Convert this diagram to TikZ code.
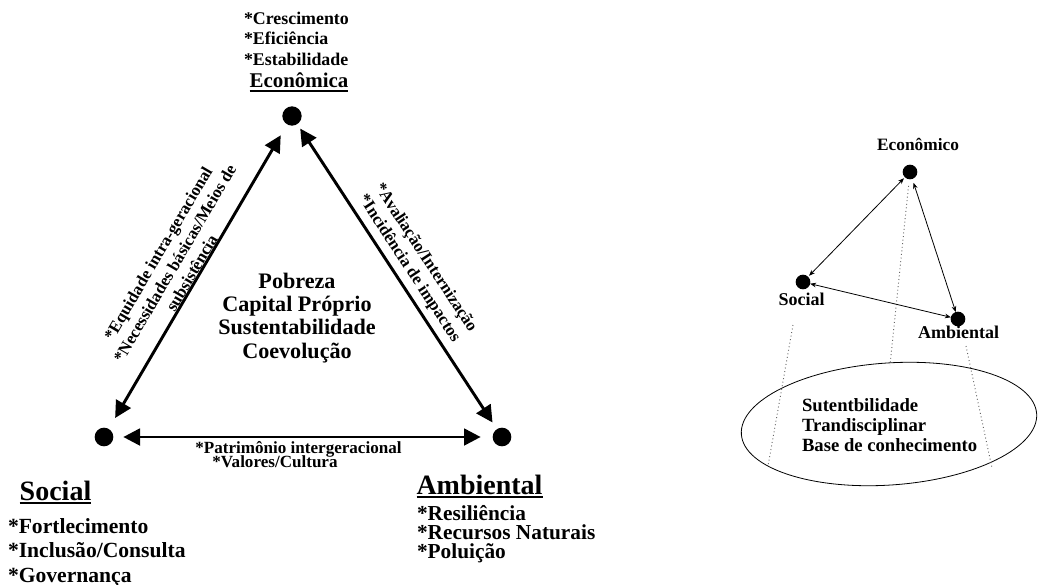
\documentclass[tikz,border=0pt]{standalone}
\usepackage{fontspec}
\setmainfont{Liberation Serif}
\usetikzlibrary{arrows.meta,shapes.geometric}
\begin{document}
\begin{tikzpicture}[x=0.75pt,y=-0.75pt,
  every node/.style={inner sep=0pt, outer sep=0pt},
  fs/.style={font=\bfseries\fontsize{#1}{#1}\selectfont},
  slabel/.style={font=\bfseries\fontsize{12.6pt}{14.6pt}\selectfont, align=center, sloped, midway},
  dot/.style={circle, fill=black, minimum size=#1, inner sep=0pt},
  bigarrow/.style={line width=2.2pt, {Triangle[length=12.5pt,width=12.5pt]}-{Triangle[length=12.5pt,width=12.5pt]}},
  thinarrow/.style={line width=0.6pt, {Stealth[length=4.5pt,width=3.5pt]}-{Stealth[length=4.5pt,width=3.5pt]}},
  dotline/.style={dotted, line width=0.7pt, black!60},
  uline/.style={line width=1.3pt},
]
\fill[white] (0,0) rectangle (1039,585);
\useasboundingbox (0,0) rectangle (1039,585);

% ---------- left triangle ----------
\node[dot=14.5pt] (econ) at (292,116) {};
\node[dot=14pt] (soc) at (104,437) {};
\node[dot=14pt] (amb) at (502,437) {};

\draw[bigarrow, shorten <=9.5pt, shorten >=9.5pt] (soc) -- (econ)
  node[slabel, above=1pt] (lblL)
  {*Equidade intra-geracional\\*Necessidades básicas/Meios de\\subsistência};
\draw[bigarrow, shorten <=4pt, shorten >=6pt] (econ) -- (amb)
  node[slabel, above=5pt] (lblR)
  {*Avaliação/Internização\\*Incidência de impactos};
\draw[bigarrow, shorten <=7.5pt, shorten >=9pt] (soc) -- (amb);

\node[fs=12.8pt, anchor=base] (pat) at (298.5,453) {*Patrimônio intergeracional};
\node[fs=12.8pt, anchor=base] (val) at (275,467) {*Valores/Cultura};

% top labels
\node[fs=13.4pt, anchor=base west] (cre) at (244,25) {*Crescimento};
\node[fs=13.4pt, anchor=base west] (efi) at (244,45) {*Eficiência};
\node[fs=13.4pt, anchor=base west] (est) at (244,65) {*Estabilidade};
\node[fs=15.7pt, anchor=base] (econT) at (299,88) {Econômica};
\draw[uline] ([yshift=-2pt]econT.base west) -- ([yshift=-2pt]econT.base east);

% center
\node[fs=16.6pt, anchor=base] (c1) at (297,288) {Pobreza};
\node[fs=16.6pt, anchor=base] (c2) at (297,311.5) {Capital Próprio};
\node[fs=16.6pt, anchor=base] (c3) at (297,334.5) {Sustentabilidade};
\node[fs=16.6pt, anchor=base] (c4) at (297,358) {Coevolução};

% social
\node[fs=21pt, anchor=base] (socT) at (55.5,500) {Social};
\draw[uline] ([yshift=-2.4pt]socT.base west) -- ([yshift=-2.4pt]socT.base east);
\node[fs=16.2pt, anchor=base west] (s1) at (8,533) {*Fortlecimento};
\node[fs=16.2pt, anchor=base west] (s2) at (8,557) {*Inclusão/Consulta};
\node[fs=16.2pt, anchor=base west] (s3) at (8,582) {*Governança};

% ambiental
\node[fs=21pt, anchor=base] (ambT) at (479.5,494) {Ambiental};
\draw[uline] ([yshift=-2.4pt]ambT.base west) -- ([yshift=-2.4pt]ambT.base east);
\node[fs=16pt, anchor=base west] (a1) at (417,520) {*Resiliência};
\node[fs=16pt, anchor=base west] (a2) at (417,539) {*Recursos Naturais};
\node[fs=16pt, anchor=base west] (a3) at (417,558) {*Poluição};

% ---------- right diagram ----------
\node[draw, ellipse, line width=0.6pt, minimum width=222pt, minimum height=91.5pt, rotate=4] (ell) at (889,424) {};

\coordinate (d1b) at (890,365);
\coordinate (d2a) at (793,325);
\coordinate (d2b) at (768,466);
\coordinate (d3a) at (966,346);
\coordinate (d3b) at (992,468);

\node[dot=11pt] (econ2) at (910,172) {};
\node[dot=11pt] (soc2) at (803,282) {};
\node[dot=11pt] (amb2) at (958,319) {};

\draw[dotline, shorten <=5pt] (econ2) -- (d1b);
\draw[dotline] (d2a) -- (d2b);
\draw[dotline] (d3a) -- (d3b);

\draw[thinarrow, shorten <=1pt, shorten >=1pt] (econ2) -- (soc2);
\draw[thinarrow, shorten <=3pt, shorten >=0pt] (econ2) -- (amb2);
\draw[thinarrow] (soc2) -- (amb2);

\node[fs=13pt, anchor=base] (econ2T) at (918,150) {Econômico};
\node[fs=13.5pt, anchor=base] (soc2T) at (801.5,305) {Social};
\node[fs=13.5pt, anchor=base] (amb2T) at (958.5,338) {Ambiental};

\node[fs=14pt, anchor=base west] (e1) at (802,411) {Sutentbilidade};
\node[fs=14pt, anchor=base west] (e2) at (802,431) {Trandisciplinar};
\node[fs=14pt, anchor=base west] (e3) at (802,451) {Base de conhecimento};
\end{tikzpicture}
\end{document}
